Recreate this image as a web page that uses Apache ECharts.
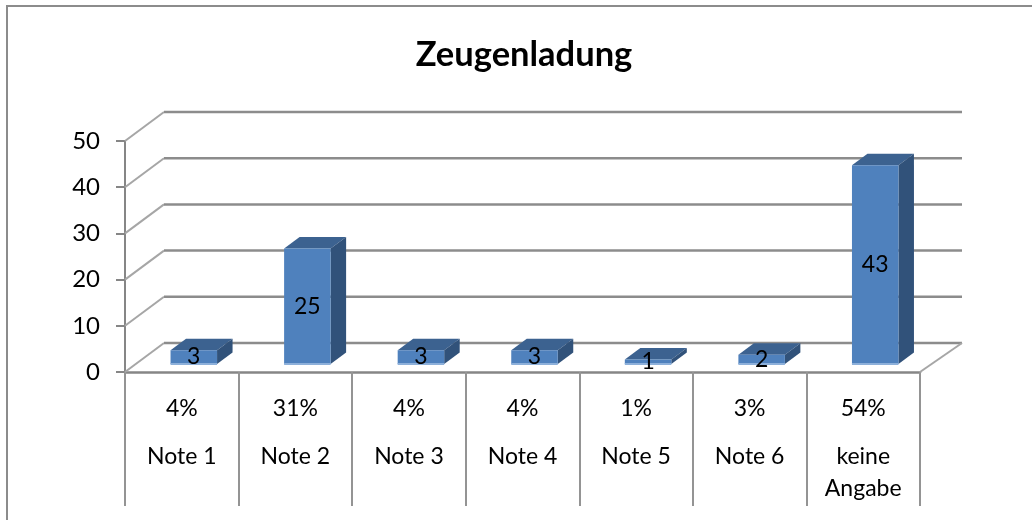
<!DOCTYPE html>
<html><head><meta charset="utf-8">
<style>html,body{margin:0;padding:0;background:#fff}#c{width:1032px;height:520px}</style>
<script src="https://cdn.jsdelivr.net/npm/echarts@6/dist/echarts.min.js"></script>
</head><body><div id="c"></div>
<script>
const categories = ['Note 1','Note 2','Note 3','Note 4','Note 5','Note 6','keine\nAngabe'];
const percents = ['4%','31%','4%','4%','1%','3%','54%'];
const values = [3,25,3,3,1,2,43];
const yTicks = [0,10,20,30,40,50];
const FONT = 'Lato';
const DX = 39, DY = 29, BAR_W = 46.5, BAR_X = 12, BAR_Y = 8, BAR_DX = 15.5, BAR_DY = 11.5;
const chart = echarts.init(document.getElementById('c'));
function poly(points, fill){return {type:'polygon',shape:{points},style:{fill}};}
chart.setOption({
  animation:false,
  backgroundColor:'#fff',
  title:{text:'Zeugenladung',left:519,top:32,textAlign:'center',textStyle:{fontFamily:FONT,fontSize:34.5,fontWeight:'bold',color:'#000'}},
  grid:{left:125,right:112,top:141,bottom:148,containLabel:false},
  xAxis:[{
    type:'category',data:percents,position:'bottom',
    axisLine:{lineStyle:{color:'#868686',width:2.5}},
    axisTick:{show:true,length:134,lineStyle:{color:'#949494',width:2}},
    axisLabel:{margin:26,fontFamily:FONT,fontSize:23,color:'#000',lineHeight:22}
  },{
    type:'category',data:categories,position:'bottom',offset:60,
    axisLine:{show:false},axisTick:{show:false},
    axisLabel:{margin:9,fontFamily:FONT,fontSize:23,color:'#000',lineHeight:32,interval:0}
  }],
  yAxis:{type:'value',min:0,max:50,interval:10,
    axisLine:{show:true,lineStyle:{color:'#868686',width:2}},
    axisTick:{show:true,length:9,lineStyle:{color:'#868686',width:2}},
    axisLabel:{margin:25,fontFamily:FONT,fontSize:24,color:'#000'},
    splitLine:{show:false}},
  series:[{
    type:'custom',coordinateSystem:'cartesian2d',silent:true,z:1,
    data:yTicks.map(v=>[0,v]),
    renderItem(params,api){
      const cs=params.coordSys, y=api.coord([0,api.value(1)])[1];
      const l=cs.x, r=cs.x+cs.width;
      const kids=[
        {type:'line',shape:{x1:l,y1:y,x2:l+DX,y2:y-DY},style:{stroke:'#a6a6a6',lineWidth:2}},
        {type:'line',shape:{x1:l+DX,y1:y-DY,x2:r+42,y2:y-DY},style:{stroke:'#8c8c8c',lineWidth:2.5}}
      ];
      if(api.value(1)===0) kids.push({type:'line',shape:{x1:r,y1:y,x2:r+42,y2:y-DY},style:{stroke:'#a6a6a6',lineWidth:2}});
      return {type:'group',children:kids};
    }
  },{
    type:'custom',coordinateSystem:'cartesian2d',silent:true,z:3,
    data:values.map((v,i)=>[i,v]),
    renderItem(params,api){
      const i=api.value(0), v=api.value(1);
      const base=api.coord([i,0]), top=api.coord([i,v]);
      const x0=base[0]-BAR_W/2+BAR_X, x1=x0+BAR_W, yb=base[1]-BAR_Y, yt=top[1]-BAR_Y;
      return {type:'group',children:[
        poly([[x0,yt],[x1,yt],[x1+BAR_DX,yt-BAR_DY],[x0+BAR_DX,yt-BAR_DY]],'#3c6290'),
        poly([[x1,yt],[x1+BAR_DX,yt-BAR_DY],[x1+BAR_DX,yb-BAR_DY],[x1,yb]],'#31527a'),
        {type:'rect',shape:{x:x0,y:yt,width:BAR_W,height:yb-yt},style:{fill:'#4f81bd'}},
        {type:'rect',shape:{x:x0,y:yb-1,width:BAR_W,height:2},style:{fill:'#8db0da'}},
        {type:'text',style:{text:String(v),x:x0+BAR_W/2,y:(yt+yb)/2,align:'center',verticalAlign:'middle',fontFamily:FONT,fontSize:23,fill:'#000'}}
      ]};
    }
  }],
  graphic:[
    {type:'line',silent:true,shape:{x1:6,y1:6,x2:1032,y2:6},style:{stroke:'#8c8c8c',lineWidth:2}},
    {type:'line',silent:true,shape:{x1:7,y1:5,x2:7,y2:520},style:{stroke:'#8c8c8c',lineWidth:2}}
  ]
});
</script></body></html>
